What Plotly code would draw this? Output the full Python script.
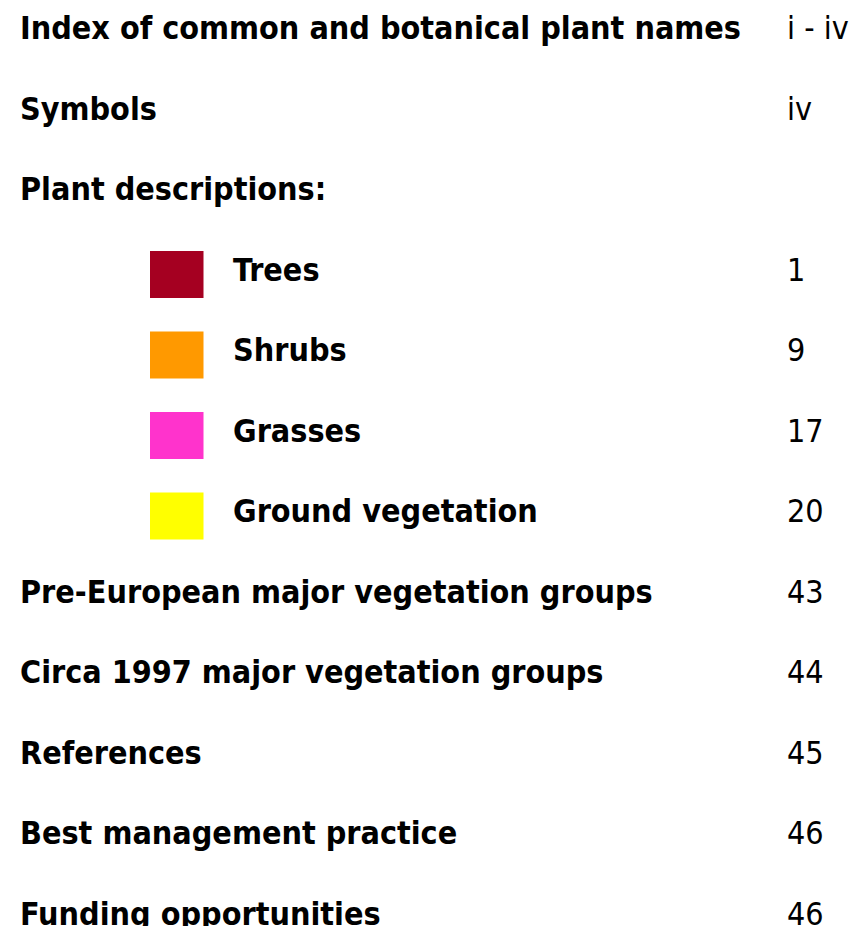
import plotly.graph_objects as go

# ---- data ----
entries = ["Index of common and botanical plant names", "Symbols", "Plant descriptions:",
           "Trees", "Shrubs", "Grasses", "Ground vegetation",
           "Pre-European major vegetation groups", "Circa 1997 major vegetation groups",
           "References", "Best management practice", "Funding opportunities"]
pages = ["i - iv", "iv", "", "1", "9", "17", "20", "43", "44", "45", "46", "46"]
levels = [0, 0, 0, 1, 1, 1, 1, 0, 0, 0, 0, 0]
swatch_colors = [None, None, None, "#A50021", "#FF9900", "#FF33CC", "#FFFF00",
                 None, None, None, None, None]

# ---- layout (pixel space) ----
W, H = 867, 926
row_top, row_step = 23, 80.5
row_y = [row_top + row_step * i for i in range(len(entries))]
text_pad = 8  # scatter text offset from its anchor
x_main, x_sub, x_page = 20 - text_pad, 233 - text_pad, 787 - text_pad
sw_x0, sw_x1, sw_h, sw_dy = 142, 195.5, 47, 2
FONT = "DejaVu Sans Condensed, DejaVu Sans, sans-serif"
FS = 32

fig = go.Figure()

main_idx = [i for i in range(len(entries)) if levels[i] == 0]
sub_idx = [i for i in range(len(entries)) if levels[i] == 1]

for idx, x0 in ((main_idx, x_main), (sub_idx, x_sub)):
    fig.add_trace(go.Scatter(
        x=[x0] * len(idx), y=[row_y[i] for i in idx],
        text=[entries[i] for i in idx], mode="text", textposition="middle right",
        textfont=dict(family=FONT, size=FS, color="black", weight="bold"),
        hoverinfo="skip"))
fig.add_trace(go.Scatter(
    x=[x_page] * len(pages), y=row_y,
    text=pages, mode="text", textposition="middle right",
    textfont=dict(family=FONT, size=FS, color="black"),
    hoverinfo="skip"))

for i in sub_idx:
    fig.add_shape(type="rect", xref="x", yref="y",
                  x0=sw_x0, x1=sw_x1,
                  y0=row_y[i] + sw_dy - sw_h / 2, y1=row_y[i] + sw_dy + sw_h / 2,
                  fillcolor=swatch_colors[i], line_width=0, layer="below")

fig.update_layout(
    width=W, height=H, margin=dict(l=0, r=0, t=0, b=0),
    paper_bgcolor="white", plot_bgcolor="white", showlegend=False,
    xaxis=dict(range=[0, W], visible=False, fixedrange=True),
    yaxis=dict(range=[H, 0], visible=False, fixedrange=True),
)
fig.write_html("out.html", config={"displayModeBar": False})
